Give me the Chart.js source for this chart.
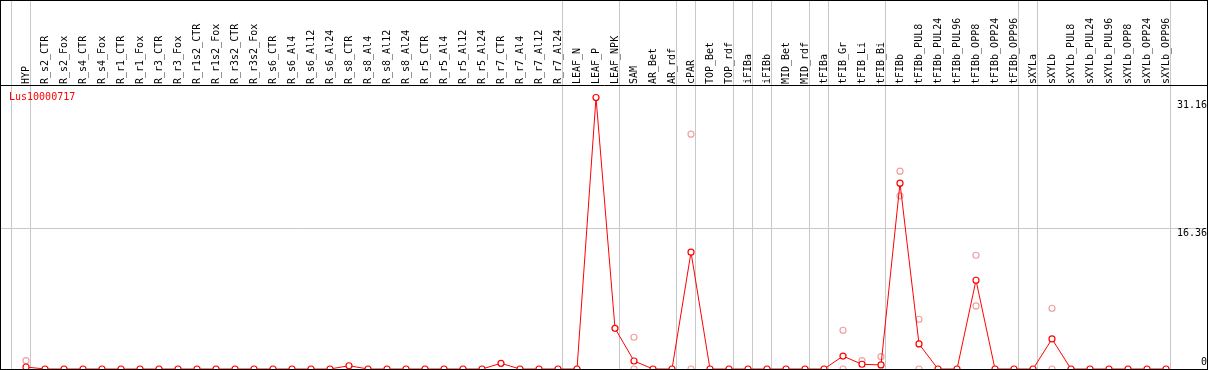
<!DOCTYPE html>
<html lang="en">
<head>
  <meta charset="UTF-8">
  <title>Lus10000717</title>
  <script src="https://cdn.jsdelivr.net/npm/chart.js"></script>
  <style>
    body { margin: 0; background: #fff; }
    #moldura { position: absolute; left: 0; top: 0; width: 1208px; height: 370px; border: 1px solid #000; box-sizing: border-box; }
    #grafico { display: block; }
    #nomeGene { position: absolute; left: 9px; top: 91px; font: 10px 'DejaVu Sans Mono', monospace; line-height: 12px; color: #f00; }
  </style>
</head>
<body>
  <div id="moldura"><canvas id="grafico" width="1206" height="368"></canvas></div>
  <div id="nomeGene">Lus10000717</div>

  <script>
    // amostras (eixo x)
    const categorias = [
      'HYP', 'R_s2_CTR', 'R_s2_Fox', 'R_s4_CTR', 'R_s4_Fox', 'R_r1_CTR', 'R_r1_Fox', 'R_r3_CTR', 'R_r3_Fox',
      'R_r1s2_CTR', 'R_r1s2_Fox', 'R_r3s2_CTR', 'R_r3s2_Fox', 'R_s6_CTR', 'R_s6_Al4', 'R_s6_Al12', 'R_s6_Al24',
      'R_s8_CTR', 'R_s8_Al4', 'R_s8_Al12', 'R_s8_Al24', 'R_r5_CTR', 'R_r5_Al4', 'R_r5_Al12', 'R_r5_Al24',
      'R_r7_CTR', 'R_r7_Al4', 'R_r7_Al12', 'R_r7_Al24', 'LEAF_N', 'LEAF_P', 'LEAF_NPK', 'SAM', 'AR_Bet', 'AR_rdf',
      'cPAR', 'TOP_Bet', 'TOP_rdf', 'iFIBa', 'iFIBb', 'MID_Bet', 'MID_rdf', 'tFIBa', 'tFIB_Gr', 'tFIB_Li', 'tFIB_Bi',
      'tFIBb', 'tFIBb_PUL8', 'tFIBb_PUL24', 'tFIBb_PUL96', 'tFIBb_OPP8', 'tFIBb_OPP24', 'tFIBb_OPP96',
      'sXYLa', 'sXYLb', 'sXYLb_PUL8', 'sXYLb_PUL24', 'sXYLb_PUL96', 'sXYLb_OPP8', 'sXYLb_OPP24', 'sXYLb_OPP96'
    ];

    // media por amostra (linha vermelha)
    const medias = [
      0.23, 0, 0, 0, 0, 0, 0, 0, 0, 0, 0, 0, 0, 0, 0, 0, 0,
      0.38, 0, 0, 0, 0, 0, 0, 0,
      0.66, 0, 0, 0,
      0, 31.55, 4.73, 0.93, 0, 0,
      13.57, 0, 0, 0, 0, 0, 0, 0, 1.5, 0.55, 0.47,
      21.59, 2.91, 0, 0, 10.31, 0, 0,
      0, 3.49, 0, 0, 0, 0, 0, 0
    ];

    // replicas individuais (circulos rosa): indice da amostra e valor
    const replicaCat = [0, 32, 32, 35, 35, 43, 43, 44, 45, 46, 46, 47, 47, 50, 50, 54, 54];
    const replicaVal = [0.97, 3.69, 0, 27.29, 0, 4.5, 0, 0.97, 1.43, 22.99, 20.12, 5.78, 0, 13.22, 7.33, 7.06, 0];

    // rotulos do eixo y
    const ticksY = [0, 16.36, 31.16];

    // ultima amostra de cada grupo (linhas cinza verticais)
    const fimGrupos = [-1, 0, 28, 31, 34, 35, 37, 38, 39, 41, 42, 45, 52, 53, 60];

    const cinza = '#c8c8c8';
    const invisivel = 'rgba(0,0,0,0)';
    const fonte = { family: "'DejaVu Sans Mono', monospace", size: 10 };

    const ticksX = [
      ...categorias.map((c, i) => ({ value: i })),
      ...fimGrupos.map(g => ({ value: g + 0.22 }))
    ].sort((a, b) => a.value - b.value);

    const ctx = document.getElementById('grafico').getContext('2d');

    new Chart(ctx, {
      type: 'line',
      data: {
        datasets: [
          {
            label: 'media',
            data: medias.map((v, i) => ({ x: i, y: v })),
            borderColor: '#ff0000',
            borderWidth: 1,
            pointRadius: 3,
            pointBorderWidth: 1.2,
            pointBorderColor: '#ff0000',
            pointBackgroundColor: '#ffffff',
            tension: 0
          },
          {
            label: 'replicas',
            data: replicaCat.map((c, i) => ({ x: c, y: replicaVal[i] })),
            showLine: false,
            pointRadius: 3,
            pointBorderWidth: 1.2,
            pointBorderColor: '#f0a0a0',
            pointBackgroundColor: '#ffffff'
          }
        ]
      },
      options: {
        responsive: false,
        animation: false,
        devicePixelRatio: 1,
        layout: { padding: 0, autoPadding: false },
        plugins: { legend: { display: false }, tooltip: { enabled: false } },
        scales: {
          x: {
            type: 'linear',
            position: 'top',
            min: -25 / 19,
            max: 1181 / 19,
            afterBuildTicks: s => { s.ticks = ticksX.map(t => ({ value: t.value })); },
            afterFit: s => { s.height = 84; s.paddingLeft = 0; s.paddingRight = 0; },
            grid: {
              color: c => (c.tick && Number.isInteger(c.tick.value)) ? invisivel : cinza,
              tickLength: 84
            },
            border: { color: '#000', width: 1 },
            ticks: {
              autoSkip: false,
              minRotation: 90,
              maxRotation: 90,
              padding: -83,
              labelOffset: 12,
              color: '#000',
              font: fonte,
              callback: v => Number.isInteger(v) ? categorias[v] : ''
            }
          },
          y: {
            position: 'right',
            min: 0,
            max: 33,
            afterBuildTicks: s => { s.ticks = ticksY.slice(1).map(v => ({ value: v })); },
            afterFit: s => { s.width = 0; s.paddingTop = 0; s.paddingBottom = 0; },
            grid: {
              color: c => c.index === 0 ? cinza : invisivel,
              drawTicks: false
            },
            border: { display: false },
            ticks: { mirror: true, padding: 0, labelOffset: 5, color: '#000', font: fonte, callback: v => String(v) }
          },
          y0: {
            position: 'right',
            min: 0,
            max: 33,
            afterBuildTicks: s => { s.ticks = ticksY.slice(0, 1).map(v => ({ value: v })); },
            afterFit: s => { s.width = 0; s.paddingTop = 0; s.paddingBottom = 0; },
            grid: { display: false },
            border: { display: false },
            ticks: { mirror: true, padding: 0, labelOffset: -7, color: '#000', font: fonte, callback: v => String(v) }
          }
        }
      }
    });
  </script>
</body>
</html>
